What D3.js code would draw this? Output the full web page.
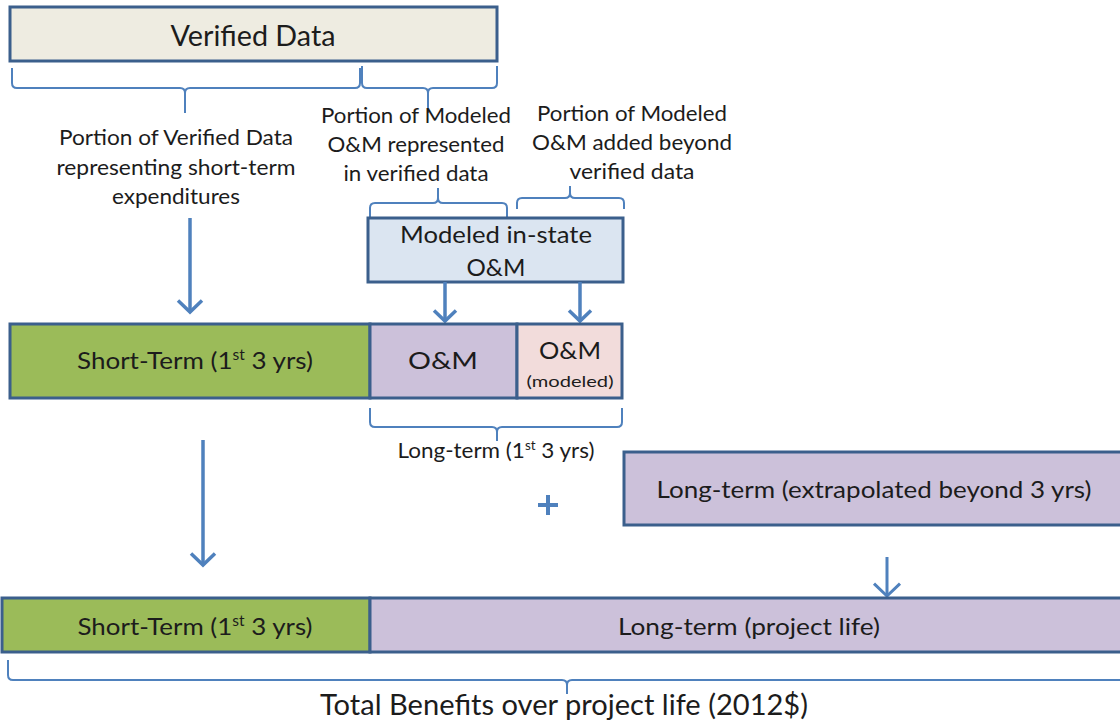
<!DOCTYPE html>
<html>
<head>
<meta charset="utf-8">
<script src="https://cdn.jsdelivr.net/npm/d3@7"></script>
<style>
  body { margin: 0; background: #fff; }
  svg { display: block; font-family: Lato, "Open Sans", sans-serif; }
</style>
</head>
<body>
<svg width="1120" height="723"></svg>
<script>
// labels
let topLabel = 'Verified Data';
let verifiedNotes = ['Portion of Verified Data', 'representing short-term', 'expenditures'];
let modeledInNotes = ['Portion of Modeled', 'O&M represented', 'in verified data'];
let modeledAddNotes = ['Portion of Modeled', 'O&M added beyond', 'verified data'];
let modeledBox = ['Modeled in-state', 'O&M'];
let row1 = ['short', 'om', 'omModeled'];
let row1Labels = ['Short-Term (1|st| 3 yrs)', 'O&M', 'O&M'];
let extraLabel = 'Long-term (extrapolated beyond 3 yrs)';
let longShortLabel = 'Long-term (1|st| 3 yrs)';
let row2 = ['short', 'long'];
let row2Labels = ['Short-Term (1|st| 3 yrs)', 'Long-term (project life)'];
let totalLabel = 'Total Benefits over project life (2012$)';

let fills = {
  verified: '#eeece1', modeled: '#dbe5f1',
  short: '#9bbb59', om: '#ccc1da', omModeled: '#f2dcdb', long: '#ccc1da'
};
let edge = '#3b5f8c';
let blue = '#4f81bd';
let ink = '#1c1c1c';

let svg = d3.select('svg');

// x positions along the diagram (px)
let row1X = d3.scaleOrdinal().domain(row1).range([[10, 370], [370, 517], [517, 622]]);
let row2X = d3.scaleOrdinal().domain(row2).range([[2, 370], [370, 1124]]);

function label(g, str, x, y, len, size) {
  let t = g.append('text')
    .attr('x', x).attr('y', y)
    .attr('text-anchor', 'middle')
    .attr('fill', ink)
    .attr('font-size', size);
  let parts = str.split('|');
  parts.forEach((p, i) => {
    let sp = t.append('tspan').text(p);
    if (i === 1) sp.attr('font-size', size * 0.6).attr('dy', -size * 0.36);
    if (i === 2) sp.attr('dy', size * 0.36);
  });
  if (len) t.attr('textLength', len).attr('lengthAdjust', 'spacingAndGlyphs');
  return t;
}

function box(x0, x1, y0, y1, fill) {
  svg.append('rect')
    .attr('x', x0).attr('y', y0)
    .attr('width', x1 - x0).attr('height', y1 - y0)
    .attr('fill', fill)
    .attr('stroke', edge)
    .attr('stroke-width', 3);
}

// brace: ends at yEnd, bar at yBar, tip at yTip, tip at xm
function brace(x1, x2, xm, yEnd, yBar, yTip) {
  let s = yBar > yEnd ? 1 : -1;
  let r = 5;
  let p = d3.path();
  p.moveTo(x1, yEnd);
  p.lineTo(x1, yBar - s * r);
  p.quadraticCurveTo(x1, yBar, x1 + r, yBar);
  p.lineTo(xm - r, yBar);
  p.quadraticCurveTo(xm, yBar, xm, yBar + s * r);
  p.lineTo(xm, yTip);
  p.moveTo(xm, yBar + s * r);
  p.quadraticCurveTo(xm, yBar, xm + r, yBar);
  p.lineTo(x2 - r, yBar);
  p.quadraticCurveTo(x2, yBar, x2, yBar - s * r);
  p.lineTo(x2, yEnd);
  svg.append('path')
    .attr('d', p.toString())
    .attr('fill', 'none')
    .attr('stroke', blue)
    .attr('stroke-width', 2);
}

function arrow(x, y0, y1, w, hw) {
  let g = svg.append('g')
    .attr('stroke', blue)
    .attr('stroke-width', w)
    .attr('fill', 'none')
    .attr('stroke-linecap', 'butt');
  g.append('line').attr('x1', x).attr('x2', x).attr('y1', y0).attr('y2', y1 - 1);
  g.append('polyline')
    .attr('points', [[x - hw, y1 - hw * 0.95], [x, y1], [x + hw, y1 - hw * 0.95]].map(d => d.join(',')).join(' '));
}

// Verified data box
box(10, 497, 7, 61, fills.verified);
label(svg, topLabel, 253, 46, 165, 29);

brace(12, 360, 185, 68, 88, 113);
brace(362, 497, 428, 66, 88, 113);

let notes = svg.append('g');
verifiedNotes.forEach((s, i) => label(notes, s, 176, 145 + i * 29.5, [234, 239, 128][i], 20.5));
modeledInNotes.forEach((s, i) => label(notes, s, 416, 123 + i * 29, [190, 177, 145][i], 20.5));
modeledAddNotes.forEach((s, i) => label(notes, s, 632, 121 + i * 29, [190, 200, 125][i], 20.5));

brace(370, 507, 438, 217, 203, 188);
brace(517, 624, 570, 209, 198, 186);

box(368, 623, 218, 282, fills.modeled);
label(svg, modeledBox[0], 496, 243, 192, 23);
label(svg, modeledBox[1], 496, 276, 59, 23);

arrow(190, 218, 312, 3.5, 12);
arrow(445, 282, 321, 3.5, 11);
arrow(580, 282, 321, 3.5, 11);

// Row 1
row1.forEach((k, i) => {
  let [a, b] = row1X(k);
  box(a, b, 324, 398, fills[k]);
});
label(svg, row1Labels[0], 195, 369, 236, 24);
label(svg, row1Labels[1], 443, 369, 70, 24);
label(svg, row1Labels[2], 570, 359, 62, 24);
label(svg, '(modeled)', 570, 387, 87, 15.5);

brace(370, 622, 497, 408, 427, 441);
label(svg, longShortLabel, 496, 458, 197, 21);

arrow(203, 440, 565, 3.5, 12);

// plus sign
svg.append('g')
  .attr('stroke', blue)
  .attr('stroke-width', 4)
  .selectAll('line')
  .data([[538, 505, 558, 505], [548, 495, 548, 515]])
  .join('line')
    .attr('x1', d => d[0]).attr('y1', d => d[1])
    .attr('x2', d => d[2]).attr('y2', d => d[3]);

box(624, 1124, 452, 525, fills.long);
label(svg, extraLabel, 874, 498, 435, 23.5);

arrow(887, 557, 596, 3, 13);

// Row 2
row2.forEach(k => {
  let [a, b] = row2X(k);
  box(a, b, 598, 652, fills[k]);
});
label(svg, row2Labels[0], 195, 635, 235, 24);
label(svg, row2Labels[1], 749, 635, 262, 24);

brace(8, 1130, 567, 660, 680, 694);
label(svg, totalLabel, 564, 715, 488, 28);
</script>
</body>
</html>
